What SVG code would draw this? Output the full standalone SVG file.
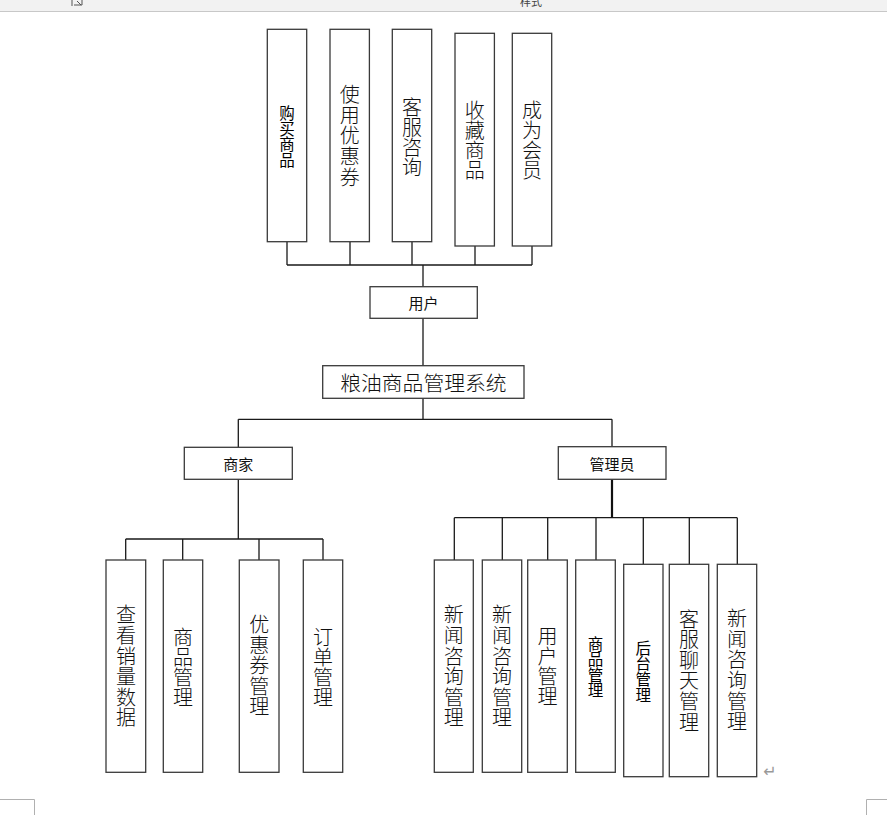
<svg xmlns="http://www.w3.org/2000/svg" width="887" height="815" viewBox="0 0 887 815">
<style>
.box{fill:#fff;stroke:#3a3a3a;stroke-width:1.3}
.ln{stroke:#1a1a1a;stroke-width:1.3;fill:none}
.t{font-family:"Noto Sans CJK SC","Noto Sans CJK JP",sans-serif;fill:#111;text-anchor:middle}
.h,.ttl{dominant-baseline:central}
.vt{writing-mode:vertical-rl;text-orientation:upright}
.v{font-size:20px;font-weight:300}
.s{font-size:15.5px;font-weight:400;letter-spacing:0.1px;fill:#000}
.p0{letter-spacing:0}
.p4{letter-spacing:0.4px}
.p6{letter-spacing:0.6px}
.p8{letter-spacing:0.8px}
.h{font-size:15px}
.ttl{font-size:20.8px;font-weight:300}
.ui{stroke:#b0b0b0;stroke-width:1;fill:none}
</style>
<rect x="0" y="0" width="887" height="11" fill="#f2f2f2"/>
<line x1="0" y1="11.5" x2="887" y2="11.5" stroke="#c8c8c8" stroke-width="1"/>
<text x="531" y="6" font-family="'Noto Sans CJK SC',sans-serif" font-size="11" fill="#444" text-anchor="middle">样式</text>
<path d="M72 0V6M74 5H82V0M77 1L81 5" stroke="#555" stroke-width="1" fill="none"/>

<g id="connectors">
<path class="ln" d="M287 242V265M350 242V265M412 242V265M475 246V265M532 246V265M287 265H532M423 265V286.7M423 318.3V365.7M423 398.3V419.3M238.3 419.3H612M238.3 419.3V447.3M612 419.3V446.7M238.3 479.3V539M125.7 539H323M125.7 539V560M182.7 539V560M259 539V560M323 539V560M454.3 517.7H737.3M454.3 517.7V560M502.3 517.7V560M547.7 517.7V560M596 517.7V560M643.3 517.7V564.3M689.3 517.7V564.3M737.3 517.7V564.3"/>
<path d="M612 479.3V517.7" stroke="#111" stroke-width="2.2" fill="none"/>
</g>

<g id="buy"><rect class="box" x="267.3" y="29.3" width="39.4" height="212.4"/>
<text class="t vt s" x="287" y="136.7">购买商品</text></g>
<g id="coupon"><rect class="box" x="330" y="29.3" width="39.4" height="212.4"/>
<text class="t vt v p8" x="349.7" y="136.3">使用优惠券</text></g>
<g id="service"><rect class="box" x="392.3" y="29.3" width="39.4" height="212.4"/>
<text class="t vt v p0" x="412" y="137">客服咨询</text></g>
<g id="favorite"><rect class="box" x="455" y="33.3" width="39.4" height="212.7"/>
<text class="t vt v p0" x="474.7" y="140.8">收藏商品</text></g>
<g id="member"><rect class="box" x="512.3" y="33.3" width="39.4" height="212.7"/>
<text class="t vt v p0" x="532" y="140.5">成为会员</text></g>

<g id="user"><rect class="box" x="370" y="286.7" width="107.3" height="31.6"/>
<text class="t h" x="423.6" y="302.5">用户</text></g>
<g id="system"><rect class="box" x="322.7" y="365.7" width="201.3" height="32.6"/>
<text class="t ttl" x="423.4" y="382">粮油商品管理系统</text></g>
<g id="merchant"><rect class="box" x="184.3" y="447.3" width="108" height="32"/>
<text class="t h" x="238.3" y="463.3">商家</text></g>
<g id="admin"><rect class="box" x="558.3" y="446.7" width="107.7" height="32.6"/>
<text class="t h" x="612" y="463">管理员</text></g>

<g id="sales"><rect class="box" x="106" y="560" width="39.7" height="212.3"/>
<text class="t vt v p6" x="125.9" y="666.7">查看销量数据</text></g>
<g id="m-goods"><rect class="box" x="163.3" y="560" width="39.4" height="212.3"/>
<text class="t vt v p0" x="183" y="667">商品管理</text></g>
<g id="m-coupon"><rect class="box" x="239.3" y="560" width="39.7" height="212.3"/>
<text class="t vt v p4" x="259.2" y="665.8">优惠券管理</text></g>
<g id="m-order"><rect class="box" x="303.3" y="560" width="39.4" height="212.3"/>
<text class="t vt v p0" x="323" y="667">订单管理</text></g>

<g id="a-news1"><rect class="box" x="434.3" y="560" width="39" height="212.3"/>
<text class="t vt v p6" x="453.8" y="666.7">新闻咨询管理</text></g>
<g id="a-news2"><rect class="box" x="482.3" y="560" width="39.4" height="212.3"/>
<text class="t vt v p6" x="502" y="666.7">新闻咨询管理</text></g>
<g id="a-user"><rect class="box" x="527.7" y="560" width="39.6" height="212.3"/>
<text class="t vt v p0" x="547.5" y="666.8">用户管理</text></g>
<g id="a-goods"><rect class="box" x="575.7" y="560" width="39.6" height="212.3"/>
<text class="t vt s" x="595.5" y="667.2">商品管理</text></g>
<g id="a-backend"><rect class="box" x="623.7" y="564.3" width="39.3" height="212.4"/>
<text class="t vt s" x="643.3" y="671.3">后台管理</text></g>
<g id="a-chat"><rect class="box" x="669.3" y="564.3" width="39.4" height="212.4"/>
<text class="t vt v p6" x="689" y="670.8">客服聊天管理</text></g>
<g id="a-news3"><rect class="box" x="717.3" y="564.3" width="39.4" height="212.4"/>
<text class="t vt v p6" x="737" y="670.5">新闻咨询管理</text></g>

<text x="770" y="771" font-family="'DejaVu Sans',sans-serif" font-size="16" fill="#999" text-anchor="middle" dominant-baseline="central">↵</text>
<path class="ui" d="M0 799.5H34.5V815M866.5 815V799.5H887"/>
</svg>
